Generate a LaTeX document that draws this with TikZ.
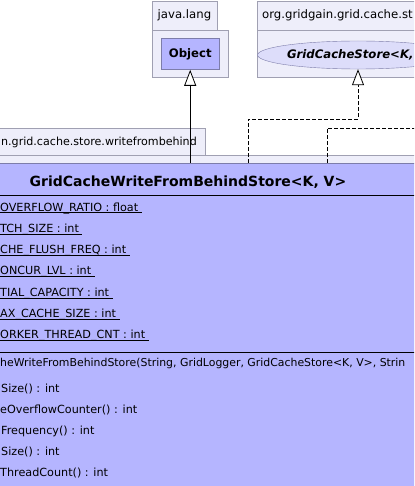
\documentclass[tikz,border=0pt]{standalone}
\usepackage{fontspec}
\setmainfont{DejaVu Sans}
\usetikzlibrary{arrows.meta, positioning, shapes.geometric}

\definecolor{pkgfill}{RGB}{238,238,250}
\definecolor{pkgline}{RGB}{160,160,178}
\definecolor{classfill}{RGB}{181,181,255}
\definecolor{classline}{RGB}{125,125,170}
\definecolor{ifacefill}{RGB}{221,221,250}

% static members are underlined, the rule runs one space past the text
\newcommand{\staticmember}[1]{\setbox0=\hbox{#1\ }\rlap{\rule[-2.2pt]{\wd0}{0.8pt}}\box0}

\begin{document}
\begin{tikzpicture}[
        x = 1pt, y = -1pt,
        >= {Triangle[length = 16pt, width = 12pt, fill = white]},
        every node/.style = {font = \fontsize{11.2}{13}\selectfont, inner sep = 0pt},
        pkg/.style = {draw = pkgline, fill = pkgfill, anchor = north west},
        pkgtab/.style = {pkg, inner xsep = 6pt, minimum height = 29pt, font = \fontsize{11.7}{14}\selectfont},
        classbox/.style = {draw = classline, fill = classfill},
        iface/.style = {ellipse, draw = classline, fill = ifacefill},
        member/.style = {anchor = base west},
        realize/.style = {dash pattern = on 4pt off 2pt},
        connector/.style = {line width = 0.8pt}
    ]
      \useasboundingbox (0,0) rectangle (414,486);
      \clip (0,0) rectangle (414,486);

      % packages on top
      \node[pkgtab, inner xsep = 5.5pt] (langtab) at (152,1) {java.lang};
      \node[pkg, minimum width = 76pt, minimum height = 47pt] (langpkg) at (langtab.south west) {};
      \node[classbox, minimum width = 58pt, minimum height = 31pt,
            font = \fontsize{11.7}{14}\selectfont\bfseries] (object) at (langpkg.center) {Object};

      \node[pkgtab, inner xsep = 5pt, text width = 170pt, align = left] (gridtab) at (257,1) {org.gridgain.grid.cache.st};
      \node[pkg, minimum width = 200pt, minimum height = 47pt] (gridpkg) at (gridtab.south west) {};
      \node[iface, minimum width = 184pt, minimum height = 28pt, text width = 142pt, align = left,
            font = \fontsize{11.7}{14}\selectfont\bfseries\itshape] (store) at (358,55) {GridCacheStore<K,};

      % package of the class
      \node[pkgtab, anchor = north east, inner xsep = 8pt, text width = 210pt, align = right,
            font = \fontsize{11.1}{13}\selectfont] (wfbtab) at (205,128) {n.grid.cache.store.writefrombehind};
      \node[pkg, minimum width = 440pt, minimum height = 345pt] (wfbpkg) at (-10,155) {};
      \node[classbox, anchor = north west, minimum width = 440pt, minimum height = 337pt] (wfb) at (-10,163) {};
      \node[anchor = base, font = \fontsize{14}{17}\selectfont\bfseries] (wfbname) at (188,186) {GridCacheWriteFromBehindStore<K, V>};
      \draw[connector] ([yshift = -32pt]wfb.north west) -- ([yshift = -32pt]wfb.north east);
      \draw[connector] ([yshift = -189pt]wfb.north west) -- ([yshift = -189pt]wfb.north east);

      \foreach \attr [count = \i] in {OVERFLOW\_RATIO : float, TCH\_SIZE : int,
            CHE\_FLUSH\_FREQ : int, ONCUR\_LVL : int, TIAL\_CAPACITY : int,
            AX\_CACHE\_SIZE : int, ORKER\_THREAD\_CNT : int}
        \node[member] (attr\i) at (0, {211 + 21.33*(\i - 1)}) {\staticmember{\attr}};

      \node[member, font = \fontsize{10.9}{13}\selectfont] (ctor) at (0,366) {heWriteFromBehindStore(String, GridLogger, GridCacheStore<K, V>, Strin};
      \foreach \dx/\op [count = \i] in {1/Size() : int, 0/eOverflowCounter() : int,
            1/Frequency() : int, 1/Size() : int, 0/ThreadCount() : int}
        \node[member] (op\i) at (\dx, {392 + 21*(\i - 1)}) {\op};

      % generalization and realizations
      \coordinate (bendstore) at (358,119);
      \coordinate (bendother) at (327,128);
      \coordinate (offright) at (430,128);

      \draw[connector, ->] (object |- wfb.north) -- (object.south);
      \draw[connector, realize, ->] (wfb.north -| 248,0) |- (bendstore) -- (store.south);
      \draw[connector, realize] (bendother |- wfb.north) -- (bendother) -- (offright);
\end{tikzpicture}
\end{document}
